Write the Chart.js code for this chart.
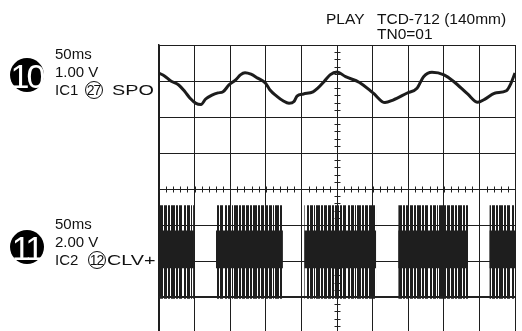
<!DOCTYPE html>
<html>
<head>
<meta charset="utf-8">
<script src="https://cdn.jsdelivr.net/npm/chart.js@4/dist/chart.umd.min.js"></script>
<style>
  html, body { margin: 0; padding: 0; background: #fff; overflow: hidden; width: 522px; height: 331px; }
  #wrap { position: relative; width: 522px; height: 331px; overflow: hidden;
          font-family: "Liberation Sans", Arial, sans-serif; color: #111; }
  canvas { position: absolute; left: 0; top: 0; }
  .t { position: absolute; white-space: nowrap; font-size: 15px; line-height: 15px; }
  .hdr { font-size: 15.5px; }
  .wide { transform: scaleX(1.32); transform-origin: 0 0; }
  .badge { position: absolute; width: 34px; height: 34px; border-radius: 50%; background: #000;
           color: #fff; font-size: 34px; line-height: 36px; text-align: center; letter-spacing: -3px;
           text-indent: -1px; }
  .pin { position: absolute; width: 16px; height: 16px; border: 1px solid #111; border-radius: 50%;
         font-size: 14px; line-height: 16px; text-align: center; letter-spacing: -1px; text-indent: -1px; }
</style>
</head>
<body>
<div id="wrap">
  <canvas id="scope" width="522" height="345"></canvas>

  <div class="t hdr" style="left:326px; top:11px;">PLAY</div>
  <div class="t hdr" style="left:377px; top:11px;">TCD-712 (140mm)</div>
  <div class="t hdr" style="left:377px; top:26px;">TN0=01</div>

  <div class="badge" style="left:10px; top:58px;">10</div>
  <div class="t" style="left:55px; top:46px;">50ms</div>
  <div class="t" style="left:55px; top:64px;">1.00 V</div>
  <div class="t" style="left:55px; top:82px;">IC1</div>
  <div class="pin" style="left:85px; top:81px;">27</div>
  <div class="t wide" style="left:112px; top:82px;">SPO</div>

  <div class="badge" style="left:10px; top:230px;">11</div>
  <div class="t" style="left:55px; top:216px;">50ms</div>
  <div class="t" style="left:55px; top:234px;">2.00 V</div>
  <div class="t" style="left:55px; top:252px;">IC2</div>
  <div class="pin" style="left:88px; top:251px;">12</div>
  <div class="t wide" style="left:107px; top:252px;">CLV+</div>
</div>

<script>
// Time base: 50 ms/div over 10 divisions; 8 vertical divisions.
const TIME_PER_DIV = 50;
const TIME_SPAN = 500;

// Channel 1 (IC1 pin 27, SPO): 1.00 V/div, trace reference at +2 div
const CH1_VDIV = 1.0;
const CH1_POS = 2;
const ch1Time  = [0, 7.7, 16.6, 27.7, 36.5, 43.3, 52.0, 59.0, 65.5, 74.4, 82.9, 89.9, 98.3, 107.7, 114.3, 120.8,
                  129.2, 138.6, 149.7, 155.9, 165.2, 174.2, 182.6, 189.6, 193.8, 203.0, 216.3, 223.0, 231.7, 240.2, 250.0,
                  262.0, 281.6, 300.6, 317.4, 328.7, 348.0, 362.4, 371.6, 383.4, 400.3, 414.3, 433.4, 447.6, 457.2,
                  471.3, 487.9, 494.0, 500];
const ch1Volts = [1.22, 1.14, 1.00, 0.89, 0.70, 0.53, 0.38, 0.35, 0.50, 0.61, 0.67, 0.70, 0.89, 1.03, 1.17, 1.23,
                  1.19, 1.08, 0.94, 0.75, 0.58, 0.45, 0.38, 0.43, 0.58, 0.64, 0.70, 0.80, 0.98, 1.17, 1.25,
                  1.12, 0.96, 0.67, 0.40, 0.47, 0.66, 0.80, 1.12, 1.24, 1.17, 0.98, 0.64, 0.41, 0.49,
                  0.66, 0.73, 0.92, 1.22];

// Channel 2 (IC2 pin 12, CLV+): 2.00 V/div, ground at -3 div
const CH2_VDIV = 2.0;
const CH2_POS = -3;
const ch2BurstStart = [0, 80, 204, 336, 464];
const ch2BurstEnd   = [49, 174, 305, 434, 500];
const ch2High = 5.1;
const ch2Low = 0.0;
const ch2BandTop = 3.7;      // dense switching region inside each burst
const ch2BandBottom = 1.6;

const ch1Div = v => CH1_POS + v / CH1_VDIV;
const ch2Div = v => CH2_POS + v / CH2_VDIV;

const canvas = document.getElementById('scope');
const ctx2d = canvas.getContext('2d');

// Vertical stripe texture for the pulse bursts (dark/gap widths in px)
function burstTexture() {
  const widths = [3, 1, 2, 1, 4, 1, 2, 1, 3, 2, 2, 1, 3, 1, 1, 1, 4, 1, 2, 1, 3, 1];
  const total = widths.reduce((a, b) => a + b, 0);
  const c = document.createElement('canvas');
  c.width = total; c.height = 4;
  const g = c.getContext('2d');
  let x = 0;
  widths.forEach((w, i) => {
    if (i % 2 === 0) { g.fillStyle = '#1e1e1e'; g.fillRect(x, 0, w, 4); }
    x += w;
  });
  return ctx2d.createPattern(c, 'repeat');
}
const stripes = burstTexture();

const datasets = [];

// CH2 low level running under the bursts
datasets.push({
  data: [{ x: 0, y: ch2Div(ch2Low) }, { x: TIME_SPAN, y: ch2Div(ch2Low) }],
  borderColor: '#222', borderWidth: 2, pointRadius: 0, fill: false
});

ch2BurstStart.forEach((s, i) => {
  const e = ch2BurstEnd[i];
  datasets.push({
    data: [{ x: s, y: ch2Div(ch2High) }, { x: e, y: ch2Div(ch2High) }],
    borderWidth: 0, pointRadius: 0, backgroundColor: stripes,
    fill: { value: ch2Div(ch2Low) - 0.05 }
  });
  datasets.push({
    data: [{ x: s, y: ch2Div(ch2BandTop) }, { x: e, y: ch2Div(ch2BandTop) }],
    borderWidth: 0, pointRadius: 0, backgroundColor: '#1e1e1e',
    fill: { value: ch2Div(ch2BandBottom) }
  });
});

// CH1 waveform
datasets.push({
  data: ch1Time.map((t, i) => ({ x: t, y: ch1Div(ch1Volts[i]) })),
  borderColor: '#1c1c1c', borderWidth: 3, pointRadius: 0, tension: 0.35,
  cubicInterpolationMode: 'monotone', fill: false
});

// Minor graticule ticks on the centre axes
const centreTicks = {
  id: 'centreTicks',
  beforeDatasetsDraw(chart) {
    const { ctx, scales: { x, y } } = chart;
    const cx = Math.round(x.getPixelForValue(TIME_SPAN / 2)) + 0.5;
    const cy = Math.round(y.getPixelForValue(0)) + 0.5;
    ctx.save();
    ctx.strokeStyle = '#222';
    ctx.lineWidth = 1;
    ctx.beginPath();
    for (let t = 0; t <= TIME_SPAN; t += TIME_PER_DIV / 5) {
      const px = Math.round(x.getPixelForValue(t)) + 0.5;
      ctx.moveTo(px, cy - 3); ctx.lineTo(px, cy + 3);
    }
    for (let k = -20; k <= 20; k++) {
      const py = Math.round(y.getPixelForValue(k / 5)) + 0.5;
      ctx.moveTo(cx - 3, py); ctx.lineTo(cx + 3, py);
    }
    ctx.stroke();
    ctx.restore();
  }
};

new Chart(canvas, {
  type: 'line',
  data: { datasets },
  options: {
    responsive: false,
    animation: false,
    events: [],
    layout: { padding: { left: 159, top: 45, right: 7, bottom: 12 } },
    plugins: { legend: { display: false }, tooltip: { enabled: false } },
    scales: {
      x: {
        type: 'linear', min: 0, max: TIME_SPAN,
        ticks: { display: false, stepSize: TIME_PER_DIV },
        grid: { drawTicks: false, color: '#1e1e1e', lineWidth: 1 },
        border: { display: true, color: '#1e1e1e', width: 1 }
      },
      y: {
        type: 'linear', min: -4, max: 4,
        ticks: { display: false, stepSize: 1 },
        grid: { drawTicks: false, color: '#1e1e1e', lineWidth: 1 },
        border: { display: true, color: '#1e1e1e', width: 1.5 }
      }
    }
  },
  plugins: [centreTicks]
});
</script>
</body>
</html>
